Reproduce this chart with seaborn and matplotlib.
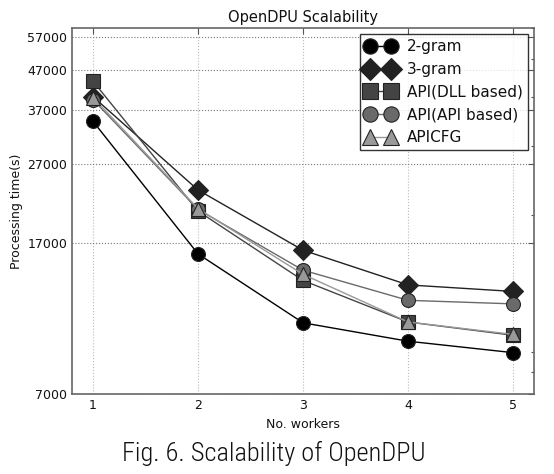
import numpy as np
import pandas as pd
import matplotlib
matplotlib.use("Agg")
import matplotlib.pyplot as plt
import matplotlib.ticker as mticker
import seaborn as sns

workers = [1, 2, 3, 4, 5]
gram2 = [34700, 15950, 10650, 9560, 8940]
gram3 = [40100, 23200, 16300, 13300, 12800]
api_dll = [43900, 20500, 13650, 10700, 9900]
api_api = [39400, 20700, 14500, 12150, 11900]
apicfg = [39900, 20800, 14150, 10700, 9950]

series_names = ["2-gram", "3-gram", "API(DLL based)", "API(API based)", "APICFG"]
yticks = [7000, 17000, 27000, 37000, 47000, 57000]

df = pd.DataFrame({
    "workers": workers * 5,
    "time": gram2 + gram3 + api_dll + api_api + apicfg,
    "series": np.repeat(series_names, len(workers)),
})

sns.set_theme(style="white")
plt.rcParams["font.family"] = ["DejaVu Sans"]
plt.rcParams["xtick.direction"] = "in"
plt.rcParams["ytick.direction"] = "in"

colors = {"2-gram": "#000000", "3-gram": "#222222", "API(DLL based)": "#444444",
          "API(API based)": "#6a6a6a", "APICFG": "#999999"}
markers = {"2-gram": "o", "3-gram": "D", "API(DLL based)": "s",
           "API(API based)": "o", "APICFG": "^"}

fig = plt.figure(figsize=(5.54, 4.74), dpi=100)
ax = fig.add_axes([0.130, 0.168, 0.834, 0.773])

for name in series_names:
    sub = df[df["series"] == name]
    sns.lineplot(data=sub, x="workers", y="time", ax=ax, color=colors[name],
                 marker=markers[name], markersize=10, markeredgecolor="#222222",
                 markeredgewidth=0.8, linewidth=1.0, label=name, legend=False)

ax.set_yscale("log")
ax.set_ylim(7000, 60000)
ax.set_xlim(0.8, 5.2)
ax.set_xticks(workers)
ax.set_yticks(yticks)
ax.yaxis.set_major_formatter(mticker.FixedFormatter([str(v) for v in yticks]))
ax.yaxis.set_minor_formatter(mticker.NullFormatter())

ax.grid(True, which="major", axis="y", linestyle=":", color="#777777", linewidth=0.8)
ax.grid(True, which="major", axis="x", linestyle=":", color="#bbbbbb", linewidth=0.8)

ax.tick_params(which="both", direction="in", top=True, right=True, color="#555555", width=0.8)
ax.tick_params(which="major", length=4, labelsize=9, labelcolor="#111111")
ax.tick_params(which="minor", length=2)
for sp in ax.spines.values():
    sp.set_color("#666666")
    sp.set_linewidth(1.2)

ax.set_title("OpenDPU Scalability", fontsize=10.5, pad=4, color="#111111")
ax.set_xlabel("No. workers", fontsize=9, labelpad=4, color="#111111")
ax.set_ylabel("Processing time(s)", fontsize=9, labelpad=3, color="#111111")

leg = ax.legend(loc="upper right", numpoints=2, fontsize=11, frameon=True,
                fancybox=False, borderaxespad=0.4, handlelength=2.0,
                labelspacing=0.5, borderpad=0.35, handletextpad=0.7,
                markerscale=1.1)
leg.get_frame().set_edgecolor("#000000")
leg.get_frame().set_linewidth(1.0)
for t in leg.get_texts():
    t.set_color("#111111")

fig.text(0.494, 0.044, "Fig. 6. Scalability of OpenDPU", ha="center", va="center",
         fontsize=19, color="#111111", fontweight="light",
         family=["Roboto Condensed", "Noto Sans CJK KR", "DejaVu Sans"])

fig.savefig("out.png", dpi=100)
